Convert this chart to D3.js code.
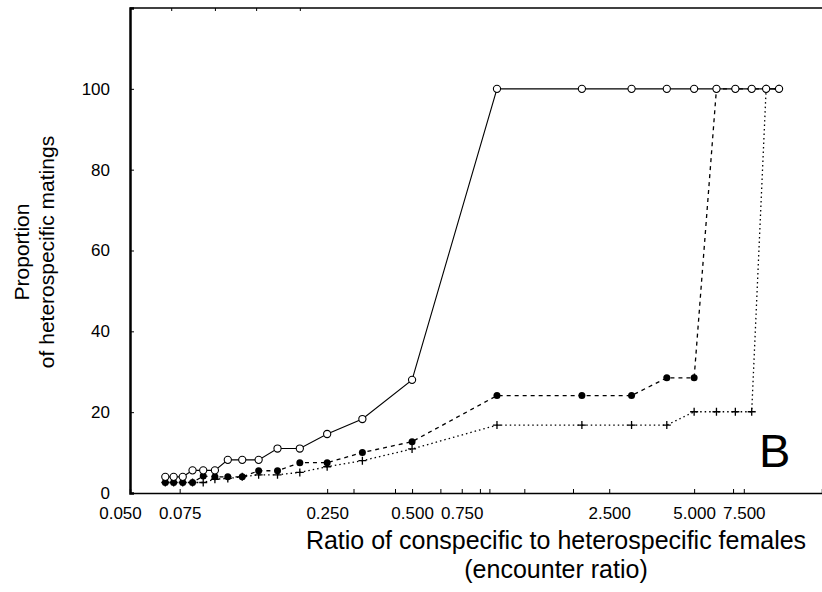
<!DOCTYPE html>
<html>
<head>
<meta charset="utf-8">
<script src="https://cdn.jsdelivr.net/npm/d3@7"></script>
<style>
  body { margin: 0; background: #fff; }
  svg { display: block; font-family: "Liberation Sans", Arial, sans-serif; }
</style>
</head>
<body>
<div id="chart"></div>
<script>
// encounter ratio (x) for every step of the simulation
var ratios = [0.0667, 0.0714, 0.0769, 0.0833, 0.0909, 0.1, 0.1111, 0.125, 0.1429, 0.1667, 0.2, 0.25, 0.3333, 0.5,
              1, 2, 3, 4, 5, 6, 7, 8, 9, 10];

// proportion of heterospecific matings (%)
var openSeries   = [4.0, 4.0, 4.0, 5.6, 5.6, 5.6, 8.2, 8.2, 8.2, 11.0, 11.0, 14.6, 18.3, 28.0,
                    100, 100, 100, 100, 100, 100, 100, 100, 100, 100];
var filledSeries = [2.6, 2.6, 2.6, 2.6, 4.2, 4.0, 4.0, 4.0, 5.5, 5.5, 7.5, 7.5, 10.0, 12.7,
                    24.1, 24.1, 24.1, 28.5, 28.5, 100, 100, 100, 100, 100];
var crossSeries  = [2.6, 2.6, 2.6, 2.6, 2.6, 3.4, 3.6, 4.0, 4.5, 4.5, 5.1, 6.5, 8.0, 10.9,
                    16.8, 16.8, 16.8, 16.8, 20.1, 20.1, 20.1, 20.1, 100, 100];

var xLabelTicks = [0.05, 0.075, 0.25, 0.5, 0.75, 2.5, 5, 7.5];
var xMinorTicks = [0.31, 0.435, 0.63, 0.87, 0.94, 1.25, 1.86, 6.87];
var xTopTicks = [0.07, 0.1, 0.14, 0.2];
var yTicks = [0, 20, 40, 60, 80, 100];

var w = 822, h = 592;

var x = d3.scaleLog().domain([0.05, 14.2]).range([130, 822]);
var y = d3.scaleLinear().domain([0, 120]).range([493, 8]);

var svg = d3.select("#chart").append("svg")
    .attr("width", w)
    .attr("height", h);

// top frame line
svg.append("line")
    .attr("x1", x.range()[0]).attr("x2", x.range()[1])
    .attr("y1", y(120)).attr("y2", y(120))
    .attr("stroke", "#000").attr("stroke-width", 1.5);

// bottom axis (inward ticks)
var fmt = d3.format(".3f");
var xAxis = d3.axisBottom(x)
    .tickValues(xLabelTicks.concat(xMinorTicks))
    .tickFormat(function(d) { return xLabelTicks.indexOf(d) >= 0 ? fmt(d) : ""; })
    .tickSize(-4)
    .tickPadding(14);

var gx = svg.append("g")
    .attr("transform", "translate(0," + y(0) + ")")
    .call(xAxis);
gx.select(".domain").attr("stroke-width", 1.5);
gx.selectAll("text")
    .attr("font-size", 17)
    .attr("font-family", "Liberation Sans, Arial, sans-serif")
    .attr("fill", "#000")
    .attr("dx", function(d) { return d === 0.05 ? -10 : 0; });

// top ticks
svg.append("g")
    .attr("transform", "translate(0," + y(120) + ")")
    .call(d3.axisTop(x).tickValues(xTopTicks).tickFormat("").tickSize(-3))
    .select(".domain").remove();

// left axis
var yAxis = d3.axisLeft(y)
    .tickValues(yTicks)
    .tickSize(-4)
    .tickPadding(20);

var gy = svg.append("g")
    .attr("transform", "translate(" + x(0.05) + ",0)")
    .call(yAxis);
gy.select(".domain").attr("stroke-width", 2.5);
gy.selectAll("text")
    .attr("font-size", 17)
    .attr("font-family", "Liberation Sans, Arial, sans-serif")
    .attr("fill", "#000");

// axis titles
svg.append("text")
    .attr("x", 556).attr("y", 549)
    .attr("text-anchor", "middle")
    .attr("font-size", 25)
    .text("Ratio of conspecific to heterospecific females");
svg.append("text")
    .attr("x", 556).attr("y", 578)
    .attr("text-anchor", "middle")
    .attr("font-size", 25)
    .text("(encounter ratio)");

var yTitle = svg.append("text")
    .attr("transform", "translate(0,252) rotate(-90)")
    .attr("text-anchor", "middle")
    .attr("font-size", 21);
yTitle.append("tspan").attr("x", 0).attr("y", 29).text("Proportion");
yTitle.append("tspan").attr("x", 0).attr("y", 54).text("of heterospecific matings");

// panel letter
svg.append("text")
    .attr("x", 759).attr("y", 467)
    .attr("font-size", 47)
    .text("B");

// lines
function lineFor(values) {
    return d3.line()
        .x(function(d, i) { return x(ratios[i]); })
        .y(function(d) { return y(d); })(values);
}

svg.append("path")
    .attr("d", lineFor(crossSeries))
    .attr("fill", "none")
    .attr("stroke", "#000")
    .attr("stroke-width", 1.3)
    .attr("stroke-dasharray", "1.5,3");

svg.append("path")
    .attr("d", lineFor(filledSeries))
    .attr("fill", "none")
    .attr("stroke", "#000")
    .attr("stroke-width", 1.3)
    .attr("stroke-dasharray", "4,4");

svg.append("path")
    .attr("d", lineFor(openSeries))
    .attr("fill", "none")
    .attr("stroke", "#000")
    .attr("stroke-width", 1.1);

// markers: crosses
svg.selectAll(".cross")
    .data(crossSeries)
    .enter()
    .append("path")
    .attr("class", "cross")
    .attr("transform", function(d, i) { return "translate(" + x(ratios[i]) + "," + y(d) + ")"; })
    .attr("d", "M-4,0H4M0,-4V4")
    .attr("stroke", "#000")
    .attr("stroke-width", 1.3)
    .attr("fill", "none");

// filled circles
svg.selectAll(".filled")
    .data(filledSeries)
    .enter()
    .append("circle")
    .attr("class", "filled")
    .attr("cx", function(d, i) { return x(ratios[i]); })
    .attr("cy", function(d) { return y(d); })
    .attr("r", 3.5)
    .attr("fill", "#000");

// open circles
svg.selectAll(".open")
    .data(openSeries)
    .enter()
    .append("circle")
    .attr("class", "open")
    .attr("cx", function(d, i) { return x(ratios[i]); })
    .attr("cy", function(d) { return y(d); })
    .attr("r", 3.6)
    .attr("fill", "#fff")
    .attr("stroke", "#000")
    .attr("stroke-width", 1.1);
</script>
</body>
</html>
